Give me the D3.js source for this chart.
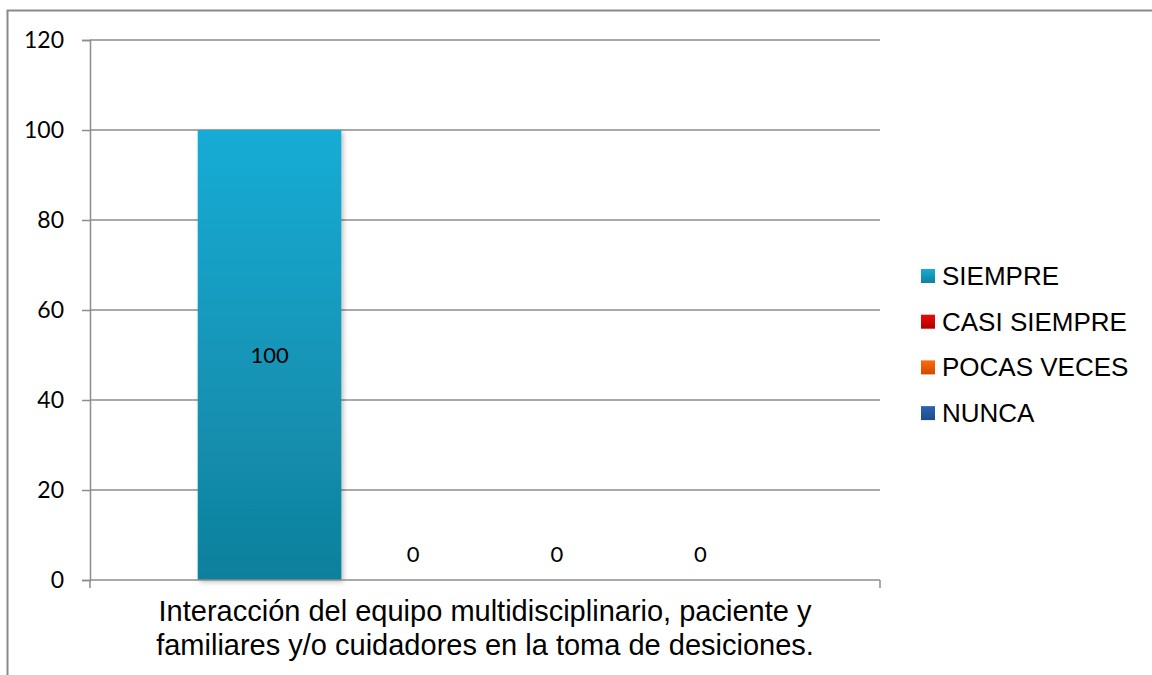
<!DOCTYPE html>
<html>
<head>
<meta charset="utf-8">
<script src="https://cdn.jsdelivr.net/npm/d3@7"></script>
<style>
  html, body { margin: 0; padding: 0; background: #fff; }
  svg { display: block; }
</style>
</head>
<body>
<svg id="chart" width="1152" height="675"></svg>
<script>
// Chart data
const categories = ["Interacción del equipo multidisciplinario, paciente y familiares y/o cuidadores en la toma de desiciones."];
const categoryLines = ["Interacción del equipo multidisciplinario, paciente y", "familiares y/o cuidadores en la toma de desiciones."];
const seriesNames = ["SIEMPRE", "CASI SIEMPRE", "POCAS VECES", "NUNCA"];
const seriesValues = [100, 0, 0, 0];
const yTicks = [0, 20, 40, 60, 80, 100, 120];
const seriesColors = [
  ["#17acd5", "#10809c"],
  ["#ee0a0a", "#b00000"],
  ["#ff6a0a", "#d04a00"],
  ["#2c62b0", "#1f4c8e"]
];

const svg = d3.select("#chart");
const W = 1152, H = 675;
const plot = { left: 90, right: 880, top: 40, bottom: 580 };

const defs = svg.append("defs");
seriesColors.forEach((c, i) => {
  const g = defs.append("linearGradient")
    .attr("id", "grad" + i)
    .attr("x1", 0).attr("y1", 0).attr("x2", 0).attr("y2", 1);
  g.append("stop").attr("offset", "0%").attr("stop-color", c[0]);
  g.append("stop").attr("offset", "100%").attr("stop-color", c[1]);
});
const shadow = defs.append("filter").attr("id", "shadow")
  .attr("x", "-10%").attr("y", "-10%").attr("width", "130%").attr("height", "120%");
shadow.append("feDropShadow")
  .attr("dx", 2).attr("dy", 2).attr("stdDeviation", 2.5)
  .attr("flood-color", "#000").attr("flood-opacity", 0.25);

// Outer chart frame
svg.append("rect")
  .attr("x", 7.5).attr("y", 10.5)
  .attr("width", W + 20).attr("height", H + 20)
  .attr("fill", "none").attr("stroke", "#8a8a8a").attr("stroke-width", 2);

// Scales: one category band, four series bars with a 150% gap width
const x0 = d3.scaleBand().domain(categories).range([plot.left, plot.right]);
const barW = x0.bandwidth() / (seriesNames.length + 1.5);
const x1 = d3.scaleBand().domain(seriesNames)
  .range([0.75 * barW, 0.75 * barW + barW * seriesNames.length]);

const y = d3.scaleLinear().domain([0, 120]).range([plot.bottom, plot.top]);

// Gridlines
svg.append("g").selectAll("line").data(yTicks.filter(t => t > 0)).join("line")
  .attr("x1", plot.left).attr("x2", plot.right)
  .attr("y1", d => y(d)).attr("y2", d => y(d))
  .attr("stroke", "#8c8c8c").attr("stroke-width", 1.5);

// Bars
const cat = categories[0];
svg.append("g").selectAll("rect").data(seriesValues).join("rect")
  .attr("x", (d, i) => x0(cat) + x1(seriesNames[i]))
  .attr("width", x1.bandwidth())
  .attr("y", d => y(d))
  .attr("height", d => y(0) - y(d))
  .attr("fill", (d, i) => `url(#grad${i})`)
  .attr("filter", "url(#shadow)");

// Y axis
const yAxis = d3.axisLeft(y).tickValues(yTicks).tickSize(8).tickPadding(18);
const gy = svg.append("g").attr("transform", `translate(${plot.left},0)`).call(yAxis);
gy.select(".domain").attr("stroke", "#8c8c8c").attr("stroke-width", 1.5);
gy.selectAll(".tick line").attr("stroke", "#8c8c8c").attr("stroke-width", 1.5);
gy.selectAll(".tick text")
  .attr("font-family", "Lato, 'Open Sans', sans-serif")
  .attr("font-size", 23).attr("fill", "#000");

// Category axis
svg.append("line")
  .attr("x1", plot.left).attr("x2", plot.right)
  .attr("y1", y(0)).attr("y2", y(0))
  .attr("stroke", "#8c8c8c").attr("stroke-width", 1.5);
[plot.left, plot.right].forEach(xx => {
  svg.append("line")
    .attr("x1", xx).attr("x2", xx)
    .attr("y1", y(0)).attr("y2", y(0) + 8)
    .attr("stroke", "#8c8c8c").attr("stroke-width", 1.5);
});

// Category label
const catText = svg.append("text")
  .attr("text-anchor", "middle")
  .attr("font-family", "'Liberation Sans', Arial, sans-serif")
  .attr("font-size", 29).attr("fill", "#000");
categoryLines.forEach((line, i) => {
  catText.append("tspan")
    .attr("x", (plot.left + plot.right) / 2)
    .attr("y", 621 + i * 34)
    .text(line);
});

// Data labels
svg.append("g").selectAll("text").data(seriesValues).join("text")
  .attr("x", (d, i) => x0(cat) + x1(seriesNames[i]) + x1.bandwidth() / 2)
  .attr("y", d => d > 0 ? (y(d) + y(0)) / 2 + 8 : y(0) - 18)
  .attr("text-anchor", "middle")
  .attr("font-family", "Lato, 'Open Sans', sans-serif")
  .attr("font-size", 22).attr("fill", "#000")
  .text(d => d);

// Legend
const legend = svg.append("g");
seriesNames.forEach((name, i) => {
  const ly = 276 + i * 45.7;
  legend.append("rect")
    .attr("x", 921).attr("y", ly - 7).attr("width", 14).attr("height", 14)
    .attr("fill", `url(#grad${i})`);
  legend.append("text")
    .attr("x", 942).attr("y", ly + 9)
    .attr("font-family", "'Liberation Sans', Arial, sans-serif")
    .attr("font-size", 26).attr("fill", "#000")
    .text(name);
});
</script>
</body>
</html>
